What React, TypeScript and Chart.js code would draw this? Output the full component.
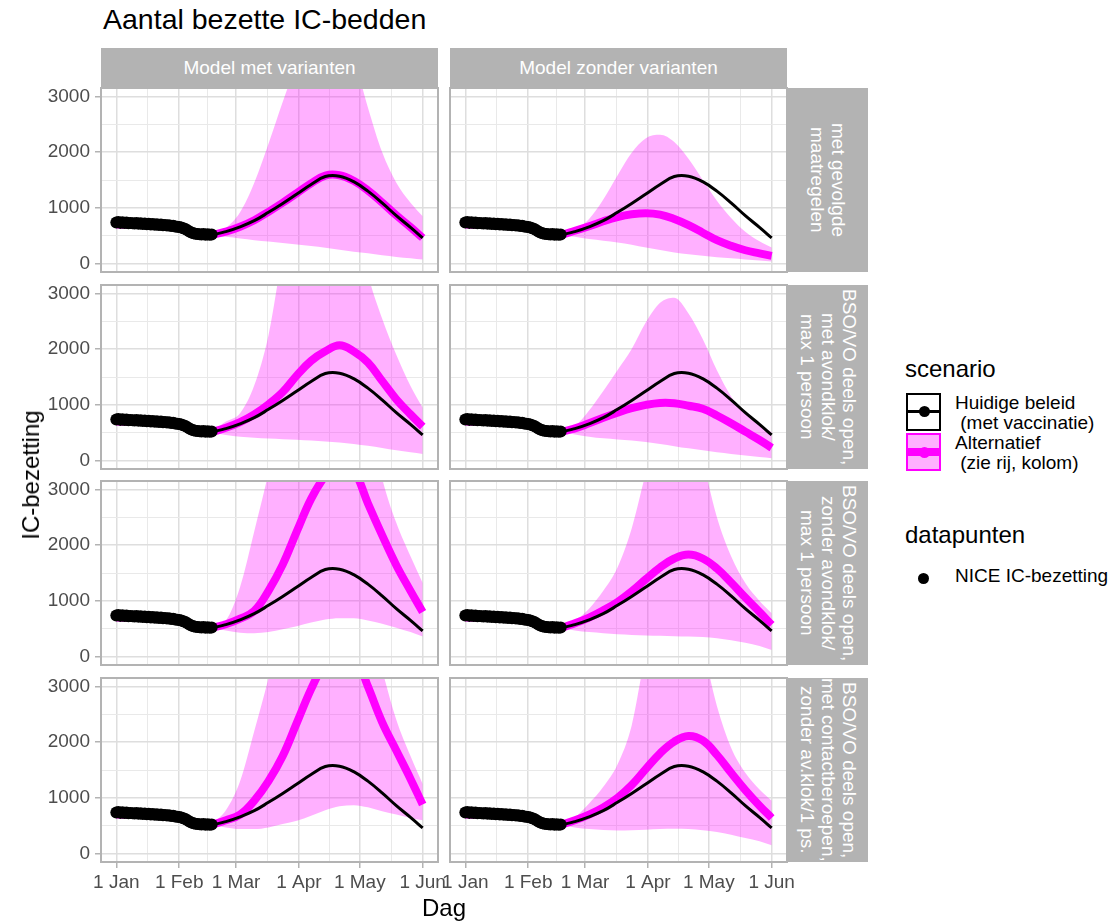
import React, { useEffect, useRef } from 'react';
import { Chart, registerables } from 'chart.js';

Chart.register(...registerables);

// ---------------- data ----------------
const MONTH_TICKS = [0, 31, 59, 90, 120, 151];
const MONTH_LABELS = ['1 Jan', '1 Feb', '1 Mar', '1 Apr', '1 May', '1 Jun'];
const MONTH_MINOR = [15.5, 45, 74.5, 105, 135.5];
const Y_TICKS = [0, 1000, 2000, 3000];
const Y_MINOR = [500, 1500, 2500];

const COLUMN_LABELS = ['Model met varianten', 'Model zonder varianten'];
const ROW_LABELS = [
  'met gevolgde\nmaatregelen',
  'BSO/VO deels open,\nmet avondklok/\nmax 1 persoon',
  'BSO/VO deels open,\nzonder avondklok/\nmax 1 persoon',
  'BSO/VO deels open,\nmet contactberoepen,\nzonder av.klok/1 ps.',
];

// NICE IC-bezetting, one value per day from 1 Jan
const NICE = [
  738, 746, 731, 741, 727, 736, 723, 731, 726, 719,
  728, 716, 723, 711, 719, 707, 715, 704, 711, 699,
  706, 695, 701, 689, 695, 683, 689, 675, 681, 667,
  663, 655, 648, 636, 622, 601, 578, 558, 546, 537,
  533, 527, 524, 531, 519, 526, 517, 522,
];

// model output days (days since 1 Jan)
const MODEL_DAYS = [0, 10, 20, 30, 40, 47, 54, 61, 68, 75, 82, 89, 96, 103, 110, 117, 124, 131, 138, 145, 151];
const RIBBON_DAYS = [47, 54, 61, 68, 75, 82, 89, 96, 103, 110, 117, 124, 131, 138, 145, 151];

// Huidige beleid (met vaccinatie)
const HUIDIG = [722, 712, 700, 672, 562, 525, 575, 660, 770, 920, 1080, 1250, 1420, 1562, 1568, 1470, 1300, 1090, 860, 650, 460];

// Alternatief per panel (rij, kolom)
const ALT_MET_R1 = [702, 696, 686, 660, 552, 522, 575, 662, 778, 930, 1092, 1265, 1440, 1580, 1585, 1485, 1312, 1098, 866, 655, 462];
const ALT_ZON_R1 = [702, 696, 686, 660, 552, 522, 590, 670, 760, 835, 885, 905, 880, 800, 690, 555, 420, 320, 240, 185, 140];
const ALT_MET_R2 = [702, 696, 686, 660, 552, 522, 590, 690, 830, 1010, 1230, 1530, 1790, 1960, 2070, 1960, 1760, 1430, 1100, 830, 610];
const ALT_ZON_R2 = [702, 696, 686, 660, 552, 522, 580, 670, 770, 860, 940, 1000, 1035, 1030, 985, 930, 810, 670, 520, 370, 230];
const ALT_MET_R3 = [702, 696, 686, 660, 552, 522, 580, 680, 820, 1180, 1650, 2250, 2830, 3250, 3550, 3350, 2750, 2180, 1640, 1180, 800];
const ALT_ZON_R3 = [702, 696, 686, 660, 552, 522, 600, 700, 830, 980, 1170, 1390, 1600, 1760, 1830, 1760, 1580, 1330, 1060, 800, 570];
const ALT_MET_R4 = [702, 696, 686, 660, 552, 530, 600, 700, 950, 1300, 1750, 2350, 2950, 3450, 3800, 3600, 3000, 2360, 1850, 1340, 880];
const ALT_ZON_R4 = [702, 696, 686, 660, 552, 530, 600, 700, 830, 1000, 1230, 1520, 1800, 2010, 2110, 2030, 1770, 1450, 1140, 860, 640];

// uncertainty band (upper / lower) per panel
const HI_MET_R1 = [528, 640, 920, 1450, 2150, 2900, 3600, 4200, 4500, 4300, 3700, 2800, 2000, 1450, 1090, 850];
const LO_MET_R1 = [520, 480, 450, 420, 395, 370, 345, 315, 285, 250, 215, 185, 150, 120, 95, 72];
const HI_ZON_R1 = [528, 600, 800, 1150, 1580, 1990, 2250, 2310, 2180, 1880, 1500, 1130, 820, 570, 400, 290];
const LO_ZON_R1 = [515, 480, 440, 410, 380, 340, 290, 245, 200, 170, 140, 115, 95, 75, 55, 40];
const HI_MET_R2 = [530, 700, 850, 1350, 2250, 3700, 4800, 5400, 5600, 5400, 4600, 3350, 2550, 1900, 1340, 950];
const LO_MET_R2 = [510, 460, 430, 410, 395, 385, 375, 360, 345, 325, 300, 265, 225, 185, 150, 120];
const HI_ZON_R2 = [525, 620, 900, 1250, 1620, 2000, 2480, 2830, 2920, 2640, 2180, 1620, 1150, 830, 640, 510];
const LO_ZON_R2 = [515, 470, 430, 400, 380, 360, 335, 300, 260, 220, 185, 150, 120, 90, 65, 45];
const HI_MET_R3 = [530, 650, 1250, 2250, 3300, 4500, 5500, 6000, 6200, 6200, 5800, 4400, 3200, 2400, 1800, 1320];
const LO_MET_R3 = [515, 470, 430, 420, 440, 490, 545, 610, 665, 690, 690, 650, 590, 520, 440, 360];
const HI_ZON_R3 = [530, 640, 860, 1180, 1600, 2300, 3300, 4200, 4500, 4300, 3500, 2500, 1800, 1320, 1000, 780];
const LO_ZON_R3 = [515, 470, 440, 420, 400, 390, 380, 375, 365, 360, 350, 330, 295, 250, 190, 120];
const HI_MET_R4 = [530, 780, 1300, 2200, 3150, 4300, 5300, 6000, 6300, 6300, 5600, 4300, 3300, 2400, 1750, 1250];
const LO_MET_R4 = [515, 470, 440, 440, 470, 530, 590, 680, 780, 850, 870, 830, 760, 700, 640, 600];
const HI_ZON_R4 = [530, 650, 900, 1200, 1600, 2300, 3600, 4400, 4700, 4500, 3700, 2650, 1900, 1450, 1150, 950];
const LO_ZON_R4 = [515, 470, 440, 425, 415, 420, 430, 440, 445, 440, 420, 390, 340, 280, 220, 150];

const PANELS = [
  { row: 0, col: 0, alt: ALT_MET_R1, hi: HI_MET_R1, lo: LO_MET_R1 },
  { row: 0, col: 1, alt: ALT_ZON_R1, hi: HI_ZON_R1, lo: LO_ZON_R1 },
  { row: 1, col: 0, alt: ALT_MET_R2, hi: HI_MET_R2, lo: LO_MET_R2 },
  { row: 1, col: 1, alt: ALT_ZON_R2, hi: HI_ZON_R2, lo: LO_ZON_R2 },
  { row: 2, col: 0, alt: ALT_MET_R3, hi: HI_MET_R3, lo: LO_MET_R3 },
  { row: 2, col: 1, alt: ALT_ZON_R3, hi: HI_ZON_R3, lo: LO_ZON_R3 },
  { row: 3, col: 0, alt: ALT_MET_R4, hi: HI_MET_R4, lo: LO_MET_R4 },
  { row: 3, col: 1, alt: ALT_ZON_R4, hi: HI_ZON_R4, lo: LO_ZON_R4 },
];

// ---------------- layout / style ----------------
const FONT = '"Liberation Sans", Arial, Helvetica, sans-serif';
const X_MIN = -7.55;
const X_MAX = 158.55;
const Y_MIN = -150;
const Y_MAX = 3150;
const PLOT_LEFT = [101, 450];
const PLOT_W = 337;
const PLOT_TOP = [88, 285, 481, 678];
const PLOT_H = 184;
const AX_W = 70;
const AX_H = 40;
const PAD_T = 24;
const PAD_B = 24;
const PAD_R = 40;
const STRIP_BG = '#b3b3b3';
const MAGENTA = '#ff00ff';
const RIBBON = 'rgba(255,0,255,0.31)';
const GRID_MAJOR = '#dedede';
const GRID_MINOR = '#e9e9e9';
const TICK_COLOR = '#b3b3b3';

Chart.defaults.font.family = FONT;

const borderPlugin = {
  id: 'panelBorder',
  afterDraw(chart: any) {
    const { ctx, chartArea: a } = chart;
    ctx.save();
    ctx.strokeStyle = '#b3b3b3';
    ctx.lineWidth = 2;
    ctx.strokeRect(a.left, a.top, a.right - a.left, a.bottom - a.top);
    ctx.restore();
  },
};

function Panel({ row, col, alt, hi, lo }: any) {
  const ref = useRef<HTMLCanvasElement>(null);
  const bottom = row === 3;
  const leftCol = col === 0;
  const W = AX_W + PLOT_W + PAD_R;
  const H = PAD_T + PLOT_H + (bottom ? AX_H : PAD_B);

  useEffect(() => {
    const pts = (days: number[], vals: number[]) => days.map((d, i) => ({ x: d, y: vals[i] }));
    const xGrid = [...MONTH_TICKS, ...MONTH_MINOR].sort((a, b) => a - b);
    const yGrid = [...Y_TICKS, ...Y_MINOR].sort((a, b) => a - b);
    const chart = new Chart(ref.current as HTMLCanvasElement, {
      type: 'line',
      data: {
        datasets: [
          {
            data: NICE.map((v, i) => ({ x: i, y: v })),
            showLine: false,
            pointRadius: 6,
            pointBackgroundColor: '#000',
            pointBorderWidth: 0,
            borderColor: '#000',
            backgroundColor: '#000',
          },
          {
            data: pts(MODEL_DAYS, HUIDIG),
            borderColor: '#000',
            borderWidth: 3,
            pointRadius: 0,
            clip: 0,
            cubicInterpolationMode: 'default',
            tension: 0.4,
          },
          {
            data: pts(MODEL_DAYS, alt),
            borderColor: MAGENTA,
            borderWidth: 8,
            pointRadius: 0,
            clip: 0,
            cubicInterpolationMode: 'default',
            tension: 0.4,
          },
          {
            data: pts(RIBBON_DAYS, hi),
            borderColor: 'rgba(0,0,0,0)',
            borderWidth: 0,
            pointRadius: 0,
            fill: '+1',
            backgroundColor: RIBBON,
            clip: 0,
          },
          { data: pts(RIBBON_DAYS, lo), borderColor: 'rgba(0,0,0,0)', borderWidth: 0, pointRadius: 0, fill: false, clip: 0 },
        ],
      } as any,
      options: {
        animation: false,
        responsive: false,
        devicePixelRatio: 1,
        events: [],
        layout: { padding: { left: 0, top: PAD_T, right: PAD_R, bottom: bottom ? 0 : PAD_B } },
        elements: { line: { cubicInterpolationMode: 'monotone', capBezierPoints: false, fill: false } },
        plugins: { legend: { display: false }, tooltip: { enabled: false } },
        scales: {
          x: {
            type: 'linear',
            min: X_MIN,
            max: X_MAX,
            afterBuildTicks: (s: any) => {
              s.ticks = xGrid.map((v) => ({ value: v }));
            },
            afterFit: (s: any) => {
              s.height = bottom ? AX_H : 0;
            },
            border: { display: false },
            grid: {
              color: (c: any) => (MONTH_TICKS.includes(c.tick?.value) ? GRID_MAJOR : GRID_MINOR),
              lineWidth: (c: any) => (MONTH_TICKS.includes(c.tick?.value) ? 1.5 : 1),
              drawTicks: bottom,
              tickLength: 6,
              tickColor: (c: any) => (MONTH_TICKS.includes(c.tick?.value) ? TICK_COLOR : 'rgba(0,0,0,0)'),
              tickWidth: 1.5,
            },
            ticks: {
              display: bottom,
              autoSkip: false,
              maxRotation: 0,
              minRotation: 0,
              padding: 3,
              color: '#4d4d4d',
              font: { size: 19, family: FONT },
              callback: (v: any) => {
                const i = MONTH_TICKS.indexOf(v);
                return i >= 0 ? MONTH_LABELS[i] : '';
              },
            },
          },
          y: {
            type: 'linear',
            min: Y_MIN,
            max: Y_MAX,
            afterBuildTicks: (s: any) => {
              s.ticks = yGrid.map((v) => ({ value: v }));
            },
            afterFit: (s: any) => {
              s.width = AX_W;
            },
            border: { display: false },
            grid: {
              color: (c: any) => (Y_TICKS.includes(c.tick?.value) ? GRID_MAJOR : GRID_MINOR),
              lineWidth: (c: any) => (Y_TICKS.includes(c.tick?.value) ? 1.5 : 1),
              drawTicks: leftCol,
              tickLength: 6,
              tickColor: (c: any) => (Y_TICKS.includes(c.tick?.value) ? TICK_COLOR : 'rgba(0,0,0,0)'),
              tickWidth: 1.5,
            },
            ticks: {
              display: leftCol,
              autoSkip: false,
              padding: 5,
              color: '#4d4d4d',
              font: { size: 19, family: FONT },
              callback: (v: any) => (Y_TICKS.includes(v) ? String(v) : ''),
            },
          },
        },
      } as any,
      plugins: [borderPlugin],
    });
    return () => chart.destroy();
  }, []);

  return (
    <canvas
      ref={ref}
      width={W}
      height={H}
      style={{
        position: 'absolute',
        left: PLOT_LEFT[col] - AX_W,
        top: PLOT_TOP[row] - PAD_T,
        width: W,
        height: H,
      }}
    />
  );
}

const abs = (o: any): React.CSSProperties => ({ position: 'absolute', ...o });

export default function App() {
  return (
    <div style={abs({ left: 0, top: 0, width: 1110, height: 923, background: '#fff', fontFamily: FONT, overflow: 'hidden' })}>
      <div style={abs({ left: 103, top: 5, fontSize: 28.5, lineHeight: '28.5px', color: '#000', whiteSpace: 'nowrap' })}>
        Aantal bezette IC-bedden
      </div>

      {COLUMN_LABELS.map((t, i) => (
        <div
          key={t}
          style={abs({
            left: PLOT_LEFT[i],
            top: 48,
            width: PLOT_W,
            height: 40,
            background: STRIP_BG,
            color: '#fff',
            fontSize: 19,
            display: 'flex',
            alignItems: 'center',
            justifyContent: 'center',
          })}
        >
          {t}
        </div>
      ))}

      {ROW_LABELS.map((t, i) => (
        <div
          key={t}
          style={abs({
            left: 788,
            top: PLOT_TOP[i],
            width: 80,
            height: PLOT_H,
            background: STRIP_BG,
            color: '#fff',
            fontSize: 19,
            lineHeight: '21px',
            writingMode: 'vertical-rl',
            display: 'flex',
            alignItems: 'center',
            justifyContent: 'center',
            overflow: 'hidden',
          })}
        >
          <div style={{ whiteSpace: 'pre', textAlign: 'center' }}>{t}</div>
        </div>
      ))}

      {PANELS.map((p) => (
        <Panel key={`${p.row}-${p.col}`} {...p} />
      ))}

      <div
        style={abs({
          left: 31,
          top: 475,
          fontSize: 24,
          lineHeight: '24px',
          whiteSpace: 'nowrap',
          transform: 'translate(-50%, -50%) rotate(-90deg)',
        })}
      >
        IC-bezetting
      </div>
      <div
        style={abs({
          left: 444,
          top: 908,
          fontSize: 24,
          lineHeight: '24px',
          whiteSpace: 'nowrap',
          transform: 'translate(-50%, -50%)',
        })}
      >
        Dag
      </div>

      {/* legend: scenario */}
      <div style={abs({ left: 905, top: 357, fontSize: 24, lineHeight: '24px', whiteSpace: 'nowrap' })}>scenario</div>
      <div style={abs({ left: 906, top: 393, width: 35, height: 38, boxSizing: 'border-box', border: '2.5px solid #000', background: '#fff' })}>
        <div style={abs({ left: 0, right: 0, top: 15, height: 3, background: '#000' })} />
        <div style={abs({ left: 10.5, top: 11, width: 11, height: 11, borderRadius: '50%', background: '#000' })} />
      </div>
      <div style={abs({ left: 906, top: 433, width: 35, height: 38, boxSizing: 'border-box', border: '2px solid #ff00ff', background: 'rgba(255,0,255,0.31)' })}>
        <div style={abs({ left: 0, right: 0, top: 13, height: 8, background: MAGENTA })} />
        <div style={abs({ left: 11, top: 11.5, width: 11, height: 11, borderRadius: '50%', background: MAGENTA })} />
      </div>
      <div style={abs({ left: 955, top: 393, fontSize: 19, lineHeight: '20px', whiteSpace: 'pre' })}>
        {'Huidige beleid\n (met vaccinatie)\nAlternatief\n (zie rij, kolom)'}
      </div>

      {/* legend: datapunten */}
      <div style={abs({ left: 905, top: 523, fontSize: 24, lineHeight: '24px', whiteSpace: 'nowrap' })}>datapunten</div>
      <div style={abs({ left: 918, top: 573, width: 11, height: 11, borderRadius: '50%', background: '#000' })} />
      <div style={abs({ left: 955, top: 566, fontSize: 19, lineHeight: '20px', whiteSpace: 'nowrap' })}>NICE IC-bezetting</div>
    </div>
  );
}
